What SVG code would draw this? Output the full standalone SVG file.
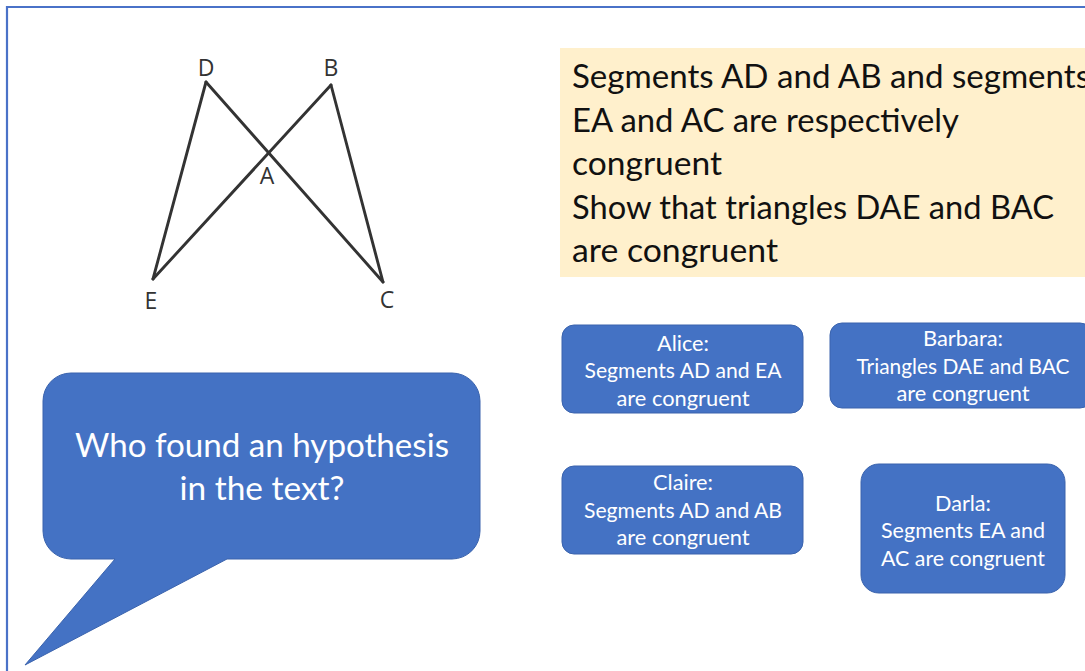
<svg xmlns="http://www.w3.org/2000/svg" width="1085" height="671" viewBox="0 0 1085 671">
<style>
.frame{stroke:#4a72c8;stroke-width:2.2;fill:none}
.seg{stroke:#333;stroke-width:2.9;stroke-linecap:round;fill:none}
.lbl{font-family:"Open Sans","Noto Sans",sans-serif;font-size:23px;font-weight:500;fill:#333;text-anchor:middle}
.note{fill:#fff0cc}
.ntxt{font-family:Lato,"Open Sans",sans-serif;font-size:32px;fill:#111}
.box{fill:#4472c4;stroke:#3a63ad;stroke-width:1}
.btxt{font-family:Lato,"Open Sans",sans-serif;font-size:21px;fill:#fff;text-anchor:middle}
.qtxt{font-family:Lato,"Open Sans",sans-serif;font-size:32px;fill:#fff;text-anchor:middle}
</style>
<rect width="1085" height="671" fill="#fff"/>
<path class="frame" d="M7 671 V7 H1085"/>
<g id="figure">
<line class="seg" x1="206" y1="82" x2="153" y2="279"/>
<line class="seg" x1="206" y1="82" x2="383" y2="282"/>
<line class="seg" x1="331" y1="85" x2="153" y2="279"/>
<line class="seg" x1="331" y1="85" x2="383" y2="282"/>
<text class="lbl" x="206" y="76">D</text>
<text class="lbl" x="331" y="76">B</text>
<text class="lbl" x="267" y="184">A</text>
<text class="lbl" x="151" y="309">E</text>
<text class="lbl" x="387" y="308">C</text>
</g>
<g id="statement">
<rect class="note" x="560" y="48" width="530" height="229"/>
<text class="ntxt" x="572" y="88" textLength="518" lengthAdjust="spacingAndGlyphs">Segments AD and AB and segments</text>
<text class="ntxt" x="572" y="132" textLength="387" lengthAdjust="spacingAndGlyphs">EA and AC are respectively</text>
<text class="ntxt" x="572" y="175" textLength="150" lengthAdjust="spacingAndGlyphs">congruent</text>
<text class="ntxt" x="572" y="219" textLength="482" lengthAdjust="spacingAndGlyphs">Show that triangles DAE and BAC</text>
<text class="ntxt" x="572" y="262" textLength="206" lengthAdjust="spacingAndGlyphs">are congruent</text>
</g>
<g id="question">
<path class="box" d="M71 373 H452 A28 28 0 0 1 480 401 V531 A28 28 0 0 1 452 559 H227 L25 665 L115 559 H71 A28 28 0 0 1 43 531 V401 A28 28 0 0 1 71 373 Z"/>
<text class="qtxt" x="262" y="457" textLength="374" lengthAdjust="spacingAndGlyphs">Who found an hypothesis</text>
<text class="qtxt" x="262" y="500" textLength="165" lengthAdjust="spacingAndGlyphs">in the text?</text>
</g>
<g id="alice">
<rect class="box" x="562" y="325" width="241" height="88" rx="12"/>
<text class="btxt" x="683" y="351" textLength="52" lengthAdjust="spacingAndGlyphs">Alice:</text>
<text class="btxt" x="683" y="378" textLength="197" lengthAdjust="spacingAndGlyphs">Segments AD and EA</text>
<text class="btxt" x="683" y="406" textLength="133" lengthAdjust="spacingAndGlyphs">are congruent</text>
</g>
<g id="barbara">
<rect class="box" x="830" y="323" width="262" height="85" rx="12"/>
<text class="btxt" x="963" y="346" textLength="80" lengthAdjust="spacingAndGlyphs">Barbara:</text>
<text class="btxt" x="963" y="374" textLength="213" lengthAdjust="spacingAndGlyphs">Triangles DAE and BAC</text>
<text class="btxt" x="963" y="401" textLength="133" lengthAdjust="spacingAndGlyphs">are congruent</text>
</g>
<g id="claire">
<rect class="box" x="562" y="466" width="241" height="88" rx="12"/>
<text class="btxt" x="683" y="490" textLength="60" lengthAdjust="spacingAndGlyphs">Claire:</text>
<text class="btxt" x="683" y="518" textLength="198" lengthAdjust="spacingAndGlyphs">Segments AD and AB</text>
<text class="btxt" x="683" y="545" textLength="133" lengthAdjust="spacingAndGlyphs">are congruent</text>
</g>
<g id="darla">
<rect class="box" x="861" y="464" width="204" height="129" rx="18"/>
<text class="btxt" x="963" y="511" textLength="56" lengthAdjust="spacingAndGlyphs">Darla:</text>
<text class="btxt" x="963" y="538" textLength="164" lengthAdjust="spacingAndGlyphs">Segments EA and</text>
<text class="btxt" x="963" y="566" textLength="164" lengthAdjust="spacingAndGlyphs">AC are congruent</text>
</g>
<g id="connectors"/>
</svg>
